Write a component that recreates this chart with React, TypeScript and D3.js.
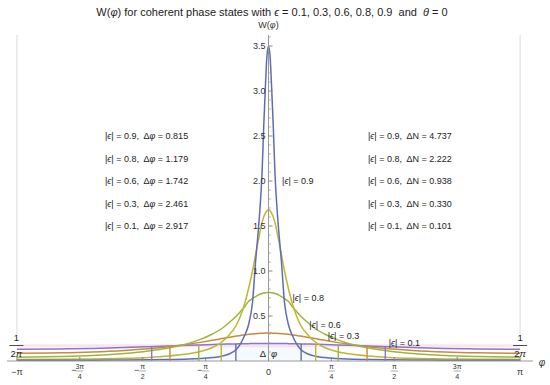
import React from "react";
import * as d3 from "d3";

const W = 550, H = 385;
const PI = Math.PI;

const epsLabels = ["0.1", "0.3", "0.6", "0.8", "0.9"];
const colors = ["#8C74C6", "#C98A3C", "#9DB43B", "#C2B62E", "#5D6DB5"];
const deltaPhi = [2.917, 2.461, 1.742, 1.179, 0.815];
const deltaN = [0.101, 0.330, 0.938, 2.222, 4.737];
const markerTops = [0.159, 0.167, 0.179, 0.187, 0.191];

// phi grid (phi >= 0), curves are symmetric in phi
const phiHalf = [0, 0.02, 0.04, 0.06, 0.08, 0.1, 0.13, 0.16, 0.2, 0.25, 0.3, 0.35, 0.4, 0.5, 0.6, 0.7, 0.85, 1.0, 1.25, 1.5, 1.8, 2.2, 2.6, PI];
const w01 = [0.195, 0.195, 0.195, 0.195, 0.195, 0.195, 0.195, 0.194, 0.194, 0.193, 0.192, 0.191, 0.19, 0.189, 0.187, 0.184, 0.179, 0.174, 0.166, 0.158, 0.149, 0.14, 0.134, 0.131];
const w03 = [0.31, 0.31, 0.31, 0.309, 0.308, 0.307, 0.305, 0.303, 0.3, 0.296, 0.29, 0.284, 0.277, 0.262, 0.246, 0.23, 0.207, 0.186, 0.158, 0.137, 0.118, 0.101, 0.091, 0.086];
const w06 = [0.76, 0.76, 0.758, 0.755, 0.75, 0.744, 0.732, 0.716, 0.695, 0.66, 0.6, 0.55, 0.5, 0.42, 0.35, 0.3, 0.24, 0.195, 0.145, 0.11, 0.082, 0.061, 0.05, 0.042];
const w08 = [1.68, 1.67, 1.64, 1.6, 1.54, 1.46, 1.33, 1.19, 1.0, 0.8, 0.63, 0.5, 0.4, 0.28, 0.2, 0.15, 0.105, 0.08, 0.055, 0.04, 0.03, 0.023, 0.02, 0.018];
const w09 = [3.5, 3.38, 3.02, 2.6, 2.1, 1.78, 1.42, 1.12, 0.65, 0.4, 0.28, 0.19, 0.13, 0.075, 0.05, 0.038, 0.028, 0.022, 0.016, 0.013, 0.011, 0.009, 0.0085, 0.008];
const seriesHalf = [w01, w03, w06, w08, w09];

const yTicks = [0.5, 1.0, 1.5, 2.0, 2.5, 3.0, 3.5];
const xTickVals = [-PI, -3 * PI / 4, -PI / 2, -PI / 4, 0, PI / 4, PI / 2, 3 * PI / 4, PI];
const xTickNum = ["−π", "−", "−", "−", "0", "", "", "", "π"];
const xTickFrac: (null | [string, string])[] = [null, ["3π", "4"], ["π", "2"], ["π", "4"], null, ["π", "4"], ["π", "2"], ["3π", "4"], null];

const curveLabelPos = [
  { e: "0.9", phi: 0.17, w: 2.0 },
  { e: "0.8", phi: 0.3, w: 0.7 },
  { e: "0.6", phi: 0.51, w: 0.4 },
  { e: "0.3", phi: 0.74, w: 0.28 },
  { e: "0.1", phi: 1.5, w: 0.2 },
];

const FONT = "'Liberation Sans', Arial, Helvetica, sans-serif";

export default function App() {
  const x = d3.scaleLinear().domain([-PI, PI]).range([16.9, 520.1]);
  const y = d3.scaleLinear().domain([0, 3.5]).range([361, 46]);
  const line = d3.line<[number, number]>().x(d => x(d[0])).y(d => y(d[1])).curve(d3.curveMonotoneX);

  const full = seriesHalf.map(s => {
    const pts: [number, number][] = [];
    for (let i = phiHalf.length - 1; i > 0; i--) pts.push([-phiHalf[i], s[i]]);
    for (let i = 0; i < phiHalf.length; i++) pts.push([phiHalf[i], s[i]]);
    return pts;
  });

  const minor = d3.range(0.1, 3.65, 0.1).filter(v => Math.abs(v * 2 - Math.round(v * 2)) > 1e-6);

  return (
    <svg width={W} height={H} style={{ position: "absolute", left: 0, top: 0, fontFamily: FONT }}>
      <rect width={W} height={H} fill="white" />
      {/* title */}
      <text x={272} y={16} textAnchor="middle" fontSize={11} fill="#222" style={{ whiteSpace: "pre" }}>
        W(<tspan fontStyle="italic">φ</tspan>) for coherent phase states with <tspan fontStyle="italic">ϵ</tspan> = 0.1, 0.3, 0.6, 0.8, 0.9  and  <tspan fontStyle="italic">θ</tspan> = 0
      </text>
      <text x={268.5} y={28} textAnchor="middle" fontSize={9} fill="#333">W(<tspan fontStyle="italic">φ</tspan>)</text>

      {/* grid lines at ±π */}
      <line x1={x(-PI)} x2={x(-PI)} y1={35} y2={335} stroke="#dcdcdc" strokeWidth={1} />
      <line x1={x(PI)} x2={x(PI)} y1={35} y2={335} stroke="#dcdcdc" strokeWidth={1} />

      {/* light fills between markers */}
      {deltaPhi.map((d, i) => (
        <rect key={"f" + i} x={x(-d / 2)} width={x(d / 2) - x(-d / 2)} y={y(markerTops[i])} height={y(0) - y(markerTops[i])} fill="#cdebf3" opacity={0.035} />
      ))}
      {/* uniform level 1/2π */}
      <line x1={x(-PI)} x2={x(PI)} y1={y(1 / (2 * PI)) - 1} y2={y(1 / (2 * PI)) - 1} stroke="#f5cdea" strokeWidth={3} opacity={0.5} />

      {/* curves */}
      {full.map((pts, i) => (
        <path key={"c" + i} d={line(pts) || ""} fill="none" stroke={colors[i]} strokeWidth={1.5} />
      ))}
      {/* Δφ markers */}
      {deltaPhi.map((d, i) => (
        <g key={"m" + i}>
          <line x1={x(-d / 2)} x2={x(-d / 2)} y1={y(0)} y2={y(markerTops[i])} stroke={colors[i]} strokeWidth={1.4} />
          <line x1={x(d / 2)} x2={x(d / 2)} y1={y(0)} y2={y(markerTops[i])} stroke={colors[i]} strokeWidth={1.4} />
        </g>
      ))}

      {/* axes */}
      <line x1={7} x2={533} y1={y(0)} y2={y(0)} stroke="#999" strokeWidth={1} />
      <line x1={x(0)} x2={x(0)} y1={y(0)} y2={35} stroke="#999" strokeWidth={1} />
      {yTicks.map(v => (
        <g key={"yt" + v}>
          <line x1={x(0)} x2={x(0) + 4} y1={y(v)} y2={y(v)} stroke="#888" />
          <text x={x(0) - 3} y={y(v) + 3.2} textAnchor="end" fontSize={9} fill="#333">{v.toFixed(1)}</text>
        </g>
      ))}
      {minor.map(v => (
        <line key={"ym" + v} x1={x(0)} x2={x(0) + 2.5} y1={y(v)} y2={y(v)} stroke="#999" strokeWidth={0.7} />
      ))}
      {xTickVals.map((v, i) => (
        <g key={"xt" + i}>
          <line x1={x(v)} x2={x(v)} y1={y(0)} y2={y(0) - 4} stroke="#888" />
          {xTickFrac[i] ? (
            <g>
              <text x={x(v) - (xTickNum[i] ? 6 : 0)} y={373} textAnchor="middle" fontSize={9} fill="#333">{xTickNum[i]}</text>
              <text x={x(v)} y={369} textAnchor="middle" fontSize={7} fill="#333">{xTickFrac[i]![0]}</text>
              <line x1={x(v) - 3.5} x2={x(v) + 3.5} y1={371} y2={371} stroke="#555" strokeWidth={0.5} />
              <text x={x(v)} y={378.5} textAnchor="middle" fontSize={7} fill="#333">{xTickFrac[i]![1]}</text>
            </g>
          ) : (
            <text x={x(v)} y={375} textAnchor="middle" fontSize={9} fill="#333">{xTickNum[i]}</text>
          )}
        </g>
      ))}
      <text x={542} y={366} textAnchor="middle" fontSize={10} fontStyle="italic" fill="#333">φ</text>

      {/* 1/2π labels */}
      {[x(-PI) - 0.5, x(PI)].map((cx, i) => (
        <g key={"u" + i}>
          <text x={cx} y={341} textAnchor="middle" fontSize={9.5} fill="#222">1</text>
          <line x1={cx - 7} x2={cx + 7} y1={345.5} y2={345.5} stroke="#222" strokeWidth={0.8} />
          <text x={cx} y={357} textAnchor="middle" fontSize={9.5} fill="#222">2<tspan fontStyle="italic">π</tspan></text>
        </g>
      ))}

      {/* Δφ label */}
      <text x={x(0)} y={357} textAnchor="middle" fontSize={9.5} fill="#222" style={{ whiteSpace: "pre" }}>Δ  <tspan fontStyle="italic">φ</tspan></text>

      {/* annotation columns */}
      {[4, 3, 2, 1, 0].map((i, r) => (
        <g key={"a" + i}>
          <text x={105} y={139 + r * 22.5} fontSize={9} fill="#222" style={{ whiteSpace: "pre" }}>
            |<tspan fontStyle="italic">ϵ</tspan>| = {epsLabels[i]},  Δ<tspan fontStyle="italic">φ</tspan> = {deltaPhi[i].toFixed(3)}
          </text>
          <text x={368} y={139 + r * 22.5} fontSize={9} fill="#222" style={{ whiteSpace: "pre" }}>
            |<tspan fontStyle="italic">ϵ</tspan>| = {epsLabels[i]},  ΔN = {deltaN[i].toFixed(3)}
          </text>
        </g>
      ))}

      {/* curve labels */}
      {curveLabelPos.map((c, i) => (
        <text key={"cl" + i} x={x(c.phi)} y={y(c.w) + 3} fontSize={9} fill="#222">
          |<tspan fontStyle="italic">ϵ</tspan>| = {c.e}
        </text>
      ))}
    </svg>
  );
}
